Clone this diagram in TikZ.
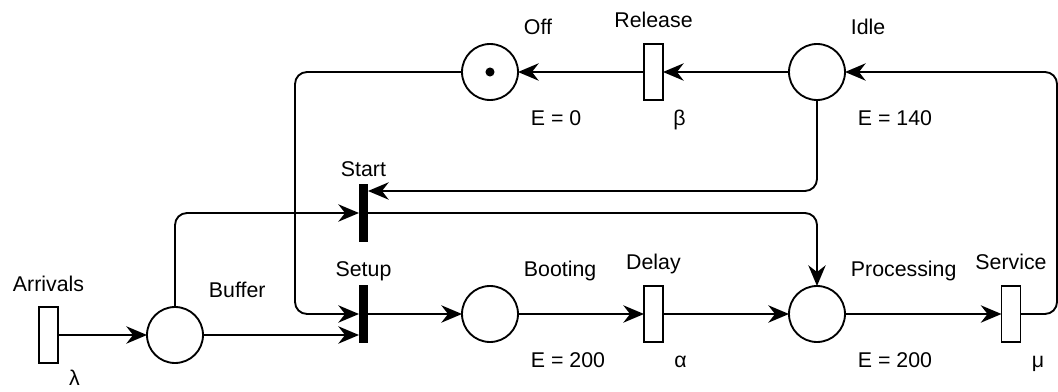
\documentclass[tikz,border=0pt]{standalone}
\usepackage{fontspec}
\setmainfont{Liberation Sans}
\usetikzlibrary{arrows.meta}
\begin{document}
\begin{tikzpicture}[x=0.75pt, y=-0.75pt, line width=1.4pt,
  font=\fontsize{16}{19}\selectfont,
  place/.style={draw, circle, minimum size=42pt, inner sep=0pt, outer sep=0pt},
  trans/.style={draw, rectangle, minimum width=14.25pt, minimum height=42pt, inner sep=0pt, outer sep=0pt},
  bar/.style={fill=black, rectangle, minimum width=6.75pt, minimum height=43.5pt, inner sep=0pt, outer sep=0pt},
  lbl/.style={inner sep=0pt},
  flow/.style={-{Stealth[length=15.5pt, width=13pt, inset=5pt]}, rounded corners=9pt}]
	\useasboundingbox (0,0) rectangle (1058,392);
	% Places
	\node[place] (buf) at (175,335) {};
	\node[place] (off) at (490,72) {};
	\fill (off.center) circle[radius=3.4pt];
	\node[place] (idle) at (817,72) {};
	\node[place] (boot) at (490,314) {};
	\node[place] (proc) at (817,314) {};
	% Transitions
	\node[trans] (arr) at (48.5,335) {};
	\node[trans] (rel) at (653.5,72) {};
	\node[trans] (delay) at (653.5,314) {};
	\node[trans] (serv) at (1011,314) {};
	\node[bar] (start) at (363.5,213) {};
	\node[bar] (setup) at (363.5,314) {};
	% Labels
	\node[lbl, anchor=base west] (buflbl) at ([shift={(33,-37)}]buf.center) {Buffer};
	\node[lbl, anchor=base west] (offlbl) at ([shift={(33,-37)}]off.center) {Off};
	\node[lbl, anchor=base west] (offe) at ([shift={(40,54)}]off.center) {E = 0};
	\node[lbl, anchor=base west] (idlelbl) at ([shift={(33,-37)}]idle.center) {Idle};
	\node[lbl, anchor=base west] (idlee) at ([shift={(40,54)}]idle.center) {E = 140};
	\node[lbl, anchor=base west] (bootlbl) at ([shift={(33,-37)}]boot.center) {Booting};
	\node[lbl, anchor=base west] (boote) at ([shift={(40,54)}]boot.center) {E = 200};
	\node[lbl, anchor=base west] (proclbl) at ([shift={(33,-37)}]proc.center) {Processing};
	\node[lbl, anchor=base west] (proce) at ([shift={(40,54)}]proc.center) {E = 200};
	\node[lbl, anchor=base] (arrlbl) at ([shift={(0,-43)}]arr.center) {Arrivals};
	\node[lbl, anchor=base] (arrrate) at ([shift={(26,51)}]arr.center) {λ};
	\node[lbl, anchor=base] (rellbl) at ([shift={(0,-44)}]rel.center) {Release};
	\node[lbl, anchor=base] (relrate) at ([shift={(26,54)}]rel.center) {β};
	\node[lbl, anchor=base] (delaylbl) at ([shift={(0,-44)}]delay.center) {Delay};
	\node[lbl, anchor=base] (delayrate) at ([shift={(27,54)}]delay.center) {α};
	\node[lbl, anchor=base] (servlbl) at ([shift={(0,-44)}]serv.center) {Service};
	\node[lbl, anchor=base] (servrate) at ([shift={(27,54)}]serv.center) {μ};
	\node[lbl, anchor=base] (startlbl) at ([shift={(0,-36)}]start.center) {Start};
	\node[lbl, anchor=base] (setuplbl) at ([shift={(0,-37)}]setup.center) {Setup};
	% Turning points
	\coordinate (lftrail) at (295,200);
	\coordinate (rtrail) at (1057,200);
	% Arcs
	\draw[flow] (arr) -- (buf);
	\draw[flow] (buf.east) -- (buf.east -| setup.west);
	\draw[flow] (buf.north) |- (start.west);
	\draw[flow] (off.west) -| (lftrail) |- (setup.west);
	\draw[flow] (setup.east) -- (boot.west);
	\draw[flow] (boot.east) -- (delay.west);
	\draw[flow] (delay.east) -- (proc.west);
	\draw[flow] (proc.east) -- (serv.west);
	\draw[flow] (serv.east) -| (rtrail) |- (idle.east);
	\draw[flow] (idle.west) -- (rel.east);
	\draw[flow] (rel.west) -- (off.east);
	\draw[flow] (idle.south) |- ([shift={(0,7)}]start.north east);
	\draw[flow] (start.east) -| (proc.north);
\end{tikzpicture}
\end{document}
